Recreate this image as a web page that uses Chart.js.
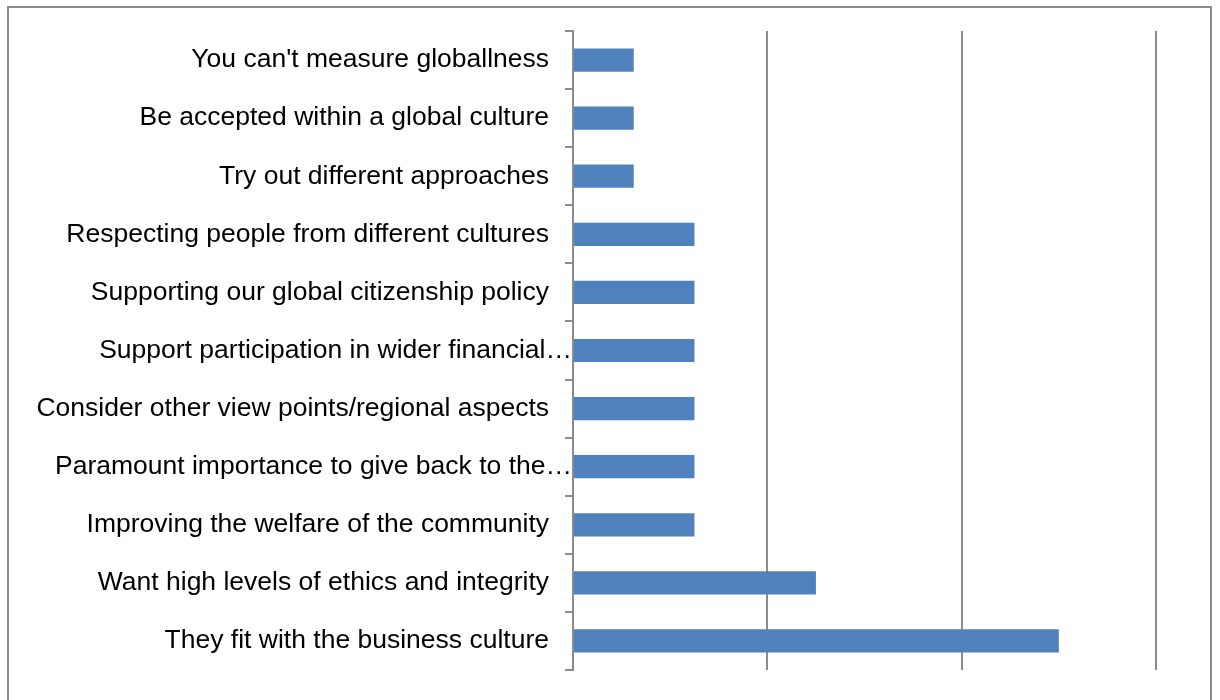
<!DOCTYPE html>
<html>
<head>
<meta charset="utf-8">
<script src="https://cdn.jsdelivr.net/npm/chart.js@4"></script>
<style>
  html, body { margin: 0; padding: 0; background: #fff; }
  #wrap { position: relative; width: 1220px; height: 700px; overflow: hidden; }
  #frame { position: absolute; left: 7px; top: 6px; width: 1201px; height: 720px; border: 2px solid #8c8c8c; box-sizing: content-box; }
  canvas { position: absolute; left: 0; top: 0; }
</style>
</head>
<body>
<div id="wrap">
  <div id="frame"></div>
  <canvas id="c" width="1220" height="700"></canvas>
</div>
<script>
const categories = [
  "You can't measure globallness",
  "Be accepted within a global culture",
  "Try out different approaches",
  "Respecting people from different cultures",
  "Supporting our global citizenship policy",
  "Support participation in wider financial…",
  "Consider other view points/regional aspects",
  "Paramount importance to give back to the…",
  "Improving the welfare of the community",
  "Want high levels of ethics and integrity",
  "They fit with the business culture"
];
const values = [3.125, 3.125, 3.125, 6.25, 6.25, 6.25, 6.25, 6.25, 6.25, 12.5, 25];
const xMin = 0, xMax = 30, xStep = 10;

const labelPlugin = {
  id: 'catLabels',
  afterDraw(chart) {
    const ctx = chart.ctx;
    const ys = chart.scales.y;
    const left = chart.chartArea.left;
    ctx.save();
    ctx.font = '26.5px "Liberation Sans", Arial, sans-serif';
    ctx.fillStyle = '#000';
    ctx.textAlign = 'right';
    ctx.textBaseline = 'middle';
    categories.forEach((lab, i) => {
      const y = ys.getPixelForValue(i);
      const x = lab.endsWith('…') ? left - 1 : left - 24;
      ctx.fillText(lab, x, y);
    });
    ctx.restore();
  }
};

new Chart(document.getElementById('c'), {
  type: 'bar',
  data: {
    labels: categories,
    datasets: [{
      data: values,
      backgroundColor: '#4F81BD',
      borderWidth: 0,
      barPercentage: 0.4,
      categoryPercentage: 1.0
    }]
  },
  options: {
    indexAxis: 'y',
    responsive: false,
    devicePixelRatio: 1,
    animation: false,
    layout: { padding: { top: 31, right: 64, bottom: 30, left: 0 } },
    plugins: { legend: { display: false }, tooltip: { enabled: false } },
    scales: {
      x: {
        min: xMin, max: xMax,
        ticks: { display: false, stepSize: xStep },
        grid: {
          drawTicks: false,
          color: (c) => c.tick && c.tick.value === 0 ? 'rgba(0,0,0,0)' : '#8c8c8c',
          lineWidth: 2
        },
        border: { display: false }
      },
      y: {
        offset: true,
        ticks: { display: false },
        grid: {
          offset: true,
          drawOnChartArea: false,
          drawTicks: true,
          tickLength: 8,
          color: '#8c8c8c',
          lineWidth: 2
        },
        border: { display: true, color: '#8c8c8c', width: 2 },
        afterFit(s) { s.width = 573; }
      }
    }
  },
  plugins: [labelPlugin]
});
</script>
</body>
</html>
